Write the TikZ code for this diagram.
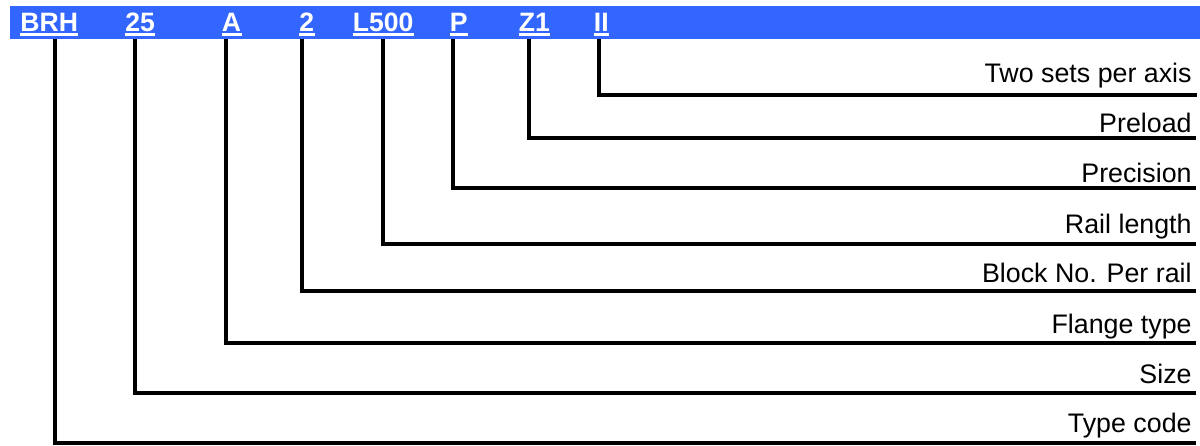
\documentclass[tikz,border=0pt]{standalone}
\usepackage{fontspec}
\setmainfont{Liberation Sans}
\definecolor{barblue}{RGB}{51,102,255}
\begin{document}
\begin{tikzpicture}[x=0.5pt,y=-0.5pt,
  code/.style={anchor=base west, inner sep=0pt, text=white, text depth=0pt,
    font=\fontsize{13.3}{16}\selectfont\bfseries},
  desc/.style={anchor=base east, inner sep=0pt,
    font=\fontsize{13.4}{16}\selectfont},
  conn/.style={line width=1.65pt, black},
  uline/.style={white, line width=1.5pt}]
\useasboundingbox (0,0) rectangle (1200,445);
\fill[barblue] (10,6) rectangle (1200,39);
% codes
\node[code] (c1) at (20,31) {BRH};
\node[code] (c2) at (125,31) {25};
\node[code] (c3) at (221.5,31) {A};
\node[code] (c4) at (299,31) {2};
\node[code] (c5) at (352.5,31) {L500};
\node[code] (c6) at (449.5,31) {P};
\node[code] (c7) at (518.5,31) {Z1};
\node[code] (c8) at (593.5,31) {II};
\foreach \i in {1,...,8}{
  \draw[uline] ([yshift=-1.6pt]c\i.south west) -- ([yshift=-1.6pt]c\i.south east);
}
% descriptions
\node[desc] (d8) at (1192,82) {Two sets per axis};
\node[desc] (d7) at (1192,132) {Preload};
\node[desc] (d6) at (1192,182) {Precision};
\node[desc] (d5) at (1192,233) {Rail length};
\node[desc] (d4) at (1192,282) {Block No. Per rail};
\node[desc] (d3) at (1192,333) {Flange type};
\node[desc] (d2) at (1192,383) {Size};
\node[desc] (d1) at (1192,432) {Type code};
% leader tops
\coordinate (t1) at (55,39);
\coordinate (t2) at (135,39);
\coordinate (t3) at (226,39);
\coordinate (t4) at (302,39);
\coordinate (t5) at (383,39);
\coordinate (t6) at (453,39);
\coordinate (t7) at (529,39);
\coordinate (t8) at (599,39);
% leader ends
\coordinate (e8) at (1197,95);
\coordinate (e7) at (1196,138);
\coordinate (e6) at (1196,188);
\coordinate (e5) at (1196,244);
\coordinate (e4) at (1196,291);
\coordinate (e3) at (1196,343);
\coordinate (e2) at (1196,393);
\coordinate (e1) at (1196,443);
\foreach \i in {1,...,8}{
  \draw[conn] (t\i) |- (e\i);
}
\end{tikzpicture}
\end{document}
